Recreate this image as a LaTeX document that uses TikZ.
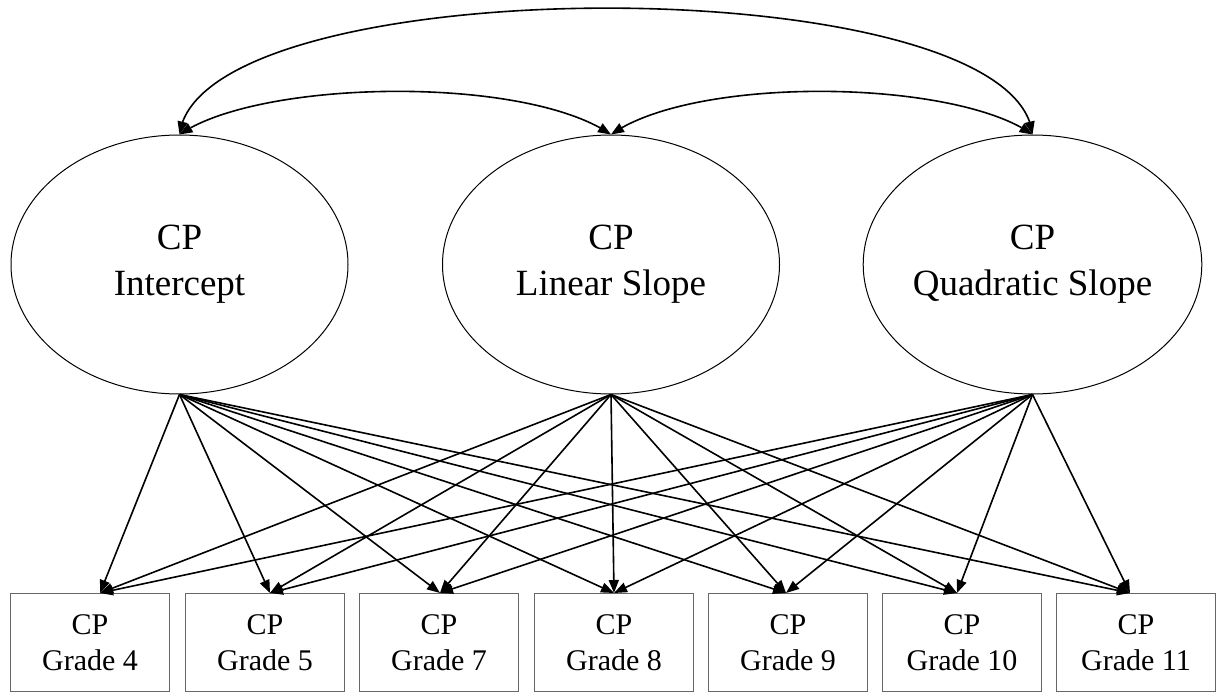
\documentclass[tikz,border=0pt]{standalone}
\usepackage{fontspec}
\setmainfont{Liberation Serif}
\usetikzlibrary{shapes.geometric,arrows.meta,bending}
\begin{document}
\begin{tikzpicture}[x=1pt,y=-1pt,
  latent/.style={draw=black,line width=1pt,ellipse,minimum width=337pt,minimum height=259pt,inner sep=0pt,align=center,font=\fontsize{37}{46}\selectfont},
  obs/.style={draw=black!60,line width=1.3pt,rectangle,minimum width=159pt,minimum height=98pt,inner sep=0pt,align=center,font=\fontsize{30}{36}\selectfont},
  tip/.style={-{Triangle[length=13pt,width=10pt]}},
  conn/.style={line width=1.6pt,black},
  cov/.style={line width=1.6pt,black,{Triangle[length=13pt,width=10pt,flex]}-{Triangle[length=13pt,width=10pt,flex]}}]
\useasboundingbox (0,0) rectangle (1216,693);
\node[latent] (e1) at (179.5,264.5) {CP\\Intercept};
\node[latent] (e2) at (611,264.5) {CP\\Linear Slope};
\node[latent] (e3) at (1032.5,264.5) {CP\\Quadratic Slope};
\node[obs] (g4) at (90,642.5) {CP\\Grade 4};
\node[obs] (g5) at (265,642.5) {CP\\Grade 5};
\node[obs] (g7) at (439,642.5) {CP\\Grade 7};
\node[obs] (g8) at (614,642.5) {CP\\Grade 8};
\node[obs] (g9) at (788,642.5) {CP\\Grade 9};
\node[obs] (g10) at (962,642.5) {CP\\Grade 10};
\node[obs] (g11) at (1136,642.5) {CP\\Grade 11};
\coordinate (t4) at (100,593);
\coordinate (t5) at (270,593);
\coordinate (t7) at (440,593);
\coordinate (t8) at (614,593);
\coordinate (t9) at (786,593);
\coordinate (t10) at (957,593);
\coordinate (t11) at (1130,593);
\foreach \e in {e1,e2,e3}{
  \foreach \t in {t4,t5,t7,t8,t9,t10,t11}{
    \draw[conn,tip] (\e.south) -- (\t);
  }
}
\draw[cov] (e1.north) .. controls (200,-34) and (1015,-34) .. (e3.north);
\draw[cov] (e1.north) .. controls (260,79) and (525,75) .. (e2.north);
\draw[cov] (e2.north) .. controls (695,75) and (955,79) .. (e3.north);
\end{tikzpicture}
\end{document}
